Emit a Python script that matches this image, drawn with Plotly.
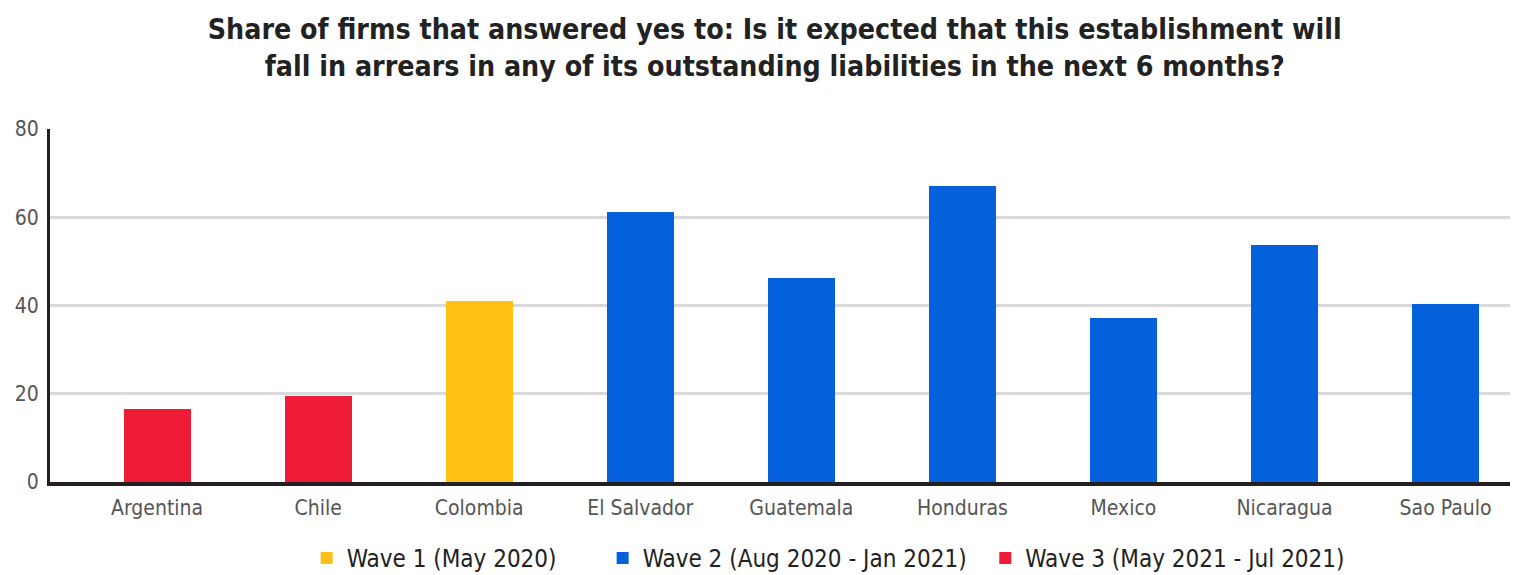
import plotly.graph_objects as go

countries = ["Argentina", "Chile", "Colombia", "El Salvador", "Guatemala",
             "Honduras", "Mexico", "Nicaragua", "Sao Paulo"]

wave1_countries = ["Colombia"]
wave1_values = [41.0]

wave2_countries = ["El Salvador", "Guatemala", "Honduras", "Mexico", "Nicaragua", "Sao Paulo"]
wave2_values = [61.2, 46.2, 67.0, 37.2, 53.8, 40.4]

wave3_countries = ["Argentina", "Chile"]
wave3_values = [16.5, 19.6]

y_ticks = [0, 20, 40, 60, 80]

FONT = "DejaVu Sans Condensed, Liberation Sans Narrow, Arial Narrow, sans-serif"
PAD = "&nbsp;"

fig = go.Figure()
fig.add_trace(go.Bar(name="Wave 1 (May 2020)" + PAD * 6, x=wave1_countries, y=wave1_values,
                     marker=dict(color="#FDC116", line=dict(width=0))))
fig.add_trace(go.Bar(name="Wave 2 (Aug 2020 - Jan 2021)" + PAD * 2, x=wave2_countries, y=wave2_values,
                     marker=dict(color="#0461DB", line=dict(width=0))))
fig.add_trace(go.Bar(name="Wave 3 (May 2021 - Jul 2021)", x=wave3_countries, y=wave3_values,
                     marker=dict(color="#EE1C36", line=dict(width=0))))

fig.update_layout(
    width=1519, height=575,
    barmode="stack",
    bargap=0.585,
    plot_bgcolor="white",
    paper_bgcolor="white",
    margin=dict(l=50, r=9, t=129, b=93, autoexpand=False),
    font=dict(family=FONT, color="#222"),
    title=dict(
        text="<b>Share of firms that answered yes to: Is it expected that this establishment will<br>"
             "fall in arrears in any of its outstanding liabilities in the next 6 months?</b>",
        xref="container", x=0.51, xanchor="center",
        yref="container", y=0.932, yanchor="middle",
        font=dict(family=FONT, size=28.3, color="#222"),
    ),
    legend=dict(
        orientation="h", x=0.533, xanchor="center",
        yref="container", y=0.068, yanchor="top",
        font=dict(family=FONT, size=24, color="#222"),
        traceorder="normal",
    ),
    xaxis=dict(
        categoryorder="array", categoryarray=countries,
        range=[-0.665, 8.40],
        showline=True, linecolor="#231f20", linewidth=4,
        tickfont=dict(family=FONT, size=21, color="#555"),
        ticks="", showgrid=False, ticklabelstandoff=4,
        automargin=False,
    ),
    yaxis=dict(
        range=[0, 80], tickvals=y_ticks,
        showgrid=True, gridcolor="#d9d9d9", gridwidth=3,
        showline=True, linecolor="#231f20", linewidth=3,
        zeroline=False,
        tickfont=dict(family=FONT, size=21, color="#555"),
        ticks="", ticklabelstandoff=4,
        automargin=False,
    ),
)

fig.write_html("out.html")
